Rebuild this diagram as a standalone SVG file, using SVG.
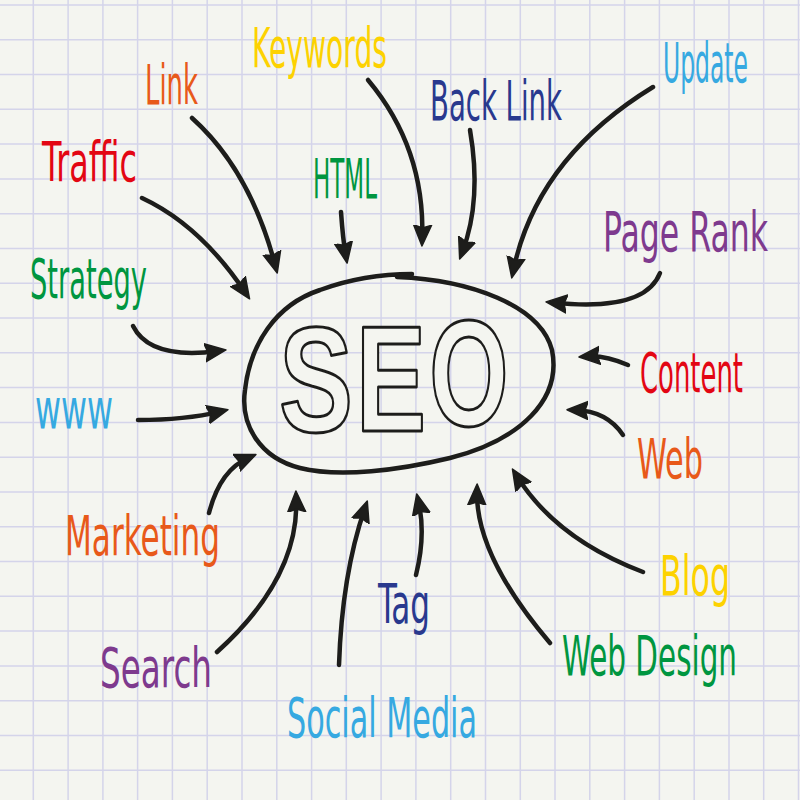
<svg xmlns="http://www.w3.org/2000/svg" width="800" height="800" viewBox="0 0 800 800">
<style>
.lbl{font-family:"Liberation Sans Narrow","DejaVu Sans Condensed","Liberation Sans",sans-serif;font-size:56px;}
.or{fill:#e8591a}.rd{fill:#e30613}.ye{fill:#fdd200}.gr{fill:#009640}.db{fill:#29398e}.lb{fill:#36a9e1}.pu{fill:#7e3a8e}
.arrow{fill:none;stroke:#1d1d1b;stroke-width:4.5;stroke-linecap:round;marker-end:url(#ah)}
.big{font-family:"Liberation Sans","DejaVu Sans",sans-serif;font-weight:bold;font-size:150px;fill:#f4f5f0;stroke:#1d1d1b;stroke-width:3;stroke-linejoin:round;text-anchor:middle}
</style>
<defs>
<marker id="ah" markerUnits="userSpaceOnUse" viewBox="0 -10 24 20" markerWidth="24" markerHeight="20" refX="13" refY="0" orient="auto">
<path d="M0,-9 L21,0 L0,9 L3,0 Z" fill="#1d1d1b" stroke="#1d1d1b" stroke-width="1.5" stroke-linejoin="round"/>
</marker>
</defs>
<rect width="800" height="800" fill="#f4f5f0"/>
<path id="grid" fill="none" stroke="#d4d4ea" stroke-width="1.5" d="M33.3 0V800M68.1 0V800M102.9 0V800M137.6 0V800M172.4 0V800M207.2 0V800M242 0V800M276.8 0V800M311.6 0V800M346.3 0V800M381.1 0V800M415.9 0V800M450.7 0V800M485.5 0V800M520.3 0V800M555 0V800M589.8 0V800M624.6 0V800M659.4 0V800M694.2 0V800M729 0V800M763.7 0V800M798.5 0V800M0 5H800M0 39.8H800M0 74.6H800M0 109.3H800M0 144.1H800M0 178.9H800M0 213.7H800M0 248.5H800M0 283.3H800M0 318H800M0 352.8H800M0 387.6H800M0 422.4H800M0 457.2H800M0 492H800M0 526.7H800M0 561.5H800M0 596.3H800M0 631.1H800M0 665.9H800M0 700.7H800M0 735.4H800M0 770.2H800"/>

<g id="seo">
<path d="M397,277 C470,280 540,305 552,350 C562,400 520,440 450,458 C400,470 340,478 300,468 C260,458 240,425 245,390 C250,345 275,305 320,290 C350,279 380,274 412,274" fill="none" stroke="#1d1d1b" stroke-width="4.5" stroke-linecap="round"/>
<text class="big" transform="translate(316,432) scale(0.74,1)">S</text>
<text class="big" transform="translate(391,431) scale(0.7,1)">E</text>
<text class="big" transform="translate(469,426) scale(0.68,1)">O</text>
</g>

<g id="connectors">
<path class="arrow" d="M192,118 Q250,170 275.2,265.2"/>
<path class="arrow" d="M142,198 Q200,225 245.1,292.2"/>
<path class="arrow" d="M368,80 Q425,148 422.2,238"/>
<path class="arrow" d="M341,212 Q343,240 345.7,255.1"/>
<path class="arrow" d="M470,130 Q482,200 462.5,251.5"/>
<path class="arrow" d="M653,87 Q537,158 513.4,270.1"/>
<path class="arrow" d="M660,273 Q645,312 554,302.7"/>
<path class="arrow" d="M628,365 Q605,355 587,356.4"/>
<path class="arrow" d="M623,435 Q607,411 575,410"/>
<path class="arrow" d="M643,572 Q556,539 516.7,475.9"/>
<path class="arrow" d="M550,643 Q476,556 477,492"/>
<path class="arrow" d="M416,575 Q426,535 418.5,501.8"/>
<path class="arrow" d="M339,665 Q342,575 364.7,508.6"/>
<path class="arrow" d="M217,652 Q299,578 296.2,499"/>
<path class="arrow" d="M209,513 Q220,470 248.6,457.7"/>
<path class="arrow" d="M133,326 Q150,360 218,351"/>
<path class="arrow" d="M138,420 Q185,420 220.2,411.6"/>
</g>

<g id="link"><text class="lbl or" transform="translate(145,104) scale(0.6,1)" textLength="88.3" lengthAdjust="spacingAndGlyphs">Link</text></g>
<g id="traffic"><text class="lbl rd" transform="translate(42,181) scale(0.6,1)" textLength="158.3" lengthAdjust="spacingAndGlyphs">Traffic</text></g>
<g id="keywords"><text class="lbl ye" transform="translate(252,67) scale(0.6,1)" textLength="225" lengthAdjust="spacingAndGlyphs">Keywords</text></g>
<g id="html"><text class="lbl gr" transform="translate(313,198) scale(0.6,1)" textLength="106.7" lengthAdjust="spacingAndGlyphs">HTML</text></g>
<g id="backlink"><text class="lbl db" transform="translate(430,120) scale(0.6,1)" textLength="220" lengthAdjust="spacingAndGlyphs">Back Link</text></g>
<g id="update"><text class="lbl lb" transform="translate(663,82) scale(0.6,1)" textLength="141.7" lengthAdjust="spacingAndGlyphs">Update</text></g>
<g id="pagerank"><text class="lbl pu" transform="translate(603,251) scale(0.6,1)" textLength="275" lengthAdjust="spacingAndGlyphs">Page Rank</text></g>
<g id="strategy"><text class="lbl gr" transform="translate(30,298) scale(0.6,1)" textLength="195" lengthAdjust="spacingAndGlyphs">Strategy</text></g>
<g id="www"><text class="lbl lb" transform="translate(35,428) scale(0.6,1)" textLength="130" lengthAdjust="spacingAndGlyphs">www</text></g>
<g id="content"><text class="lbl rd" transform="translate(640,392) scale(0.6,1)" textLength="171.7" lengthAdjust="spacingAndGlyphs">Content</text></g>
<g id="web"><text class="lbl or" transform="translate(637,478) scale(0.6,1)" textLength="110" lengthAdjust="spacingAndGlyphs">Web</text></g>
<g id="marketing"><text class="lbl or" transform="translate(65,555) scale(0.6,1)" textLength="258.3" lengthAdjust="spacingAndGlyphs">Marketing</text></g>
<g id="blog"><text class="lbl ye" transform="translate(660,595) scale(0.6,1)" textLength="116.7" lengthAdjust="spacingAndGlyphs">Blog</text></g>
<g id="search"><text class="lbl pu" transform="translate(100,687) scale(0.6,1)" textLength="186.7" lengthAdjust="spacingAndGlyphs">Search</text></g>
<g id="tag"><text class="lbl db" transform="translate(378,623) scale(0.6,1)" textLength="86.7" lengthAdjust="spacingAndGlyphs">Tag</text></g>
<g id="socialmedia"><text class="lbl lb" transform="translate(287,737) scale(0.6,1)" textLength="316.7" lengthAdjust="spacingAndGlyphs">Social Media</text></g>
<g id="webdesign"><text class="lbl gr" transform="translate(562,675) scale(0.6,1)" textLength="291.7" lengthAdjust="spacingAndGlyphs">Web Design</text></g>
</svg>
